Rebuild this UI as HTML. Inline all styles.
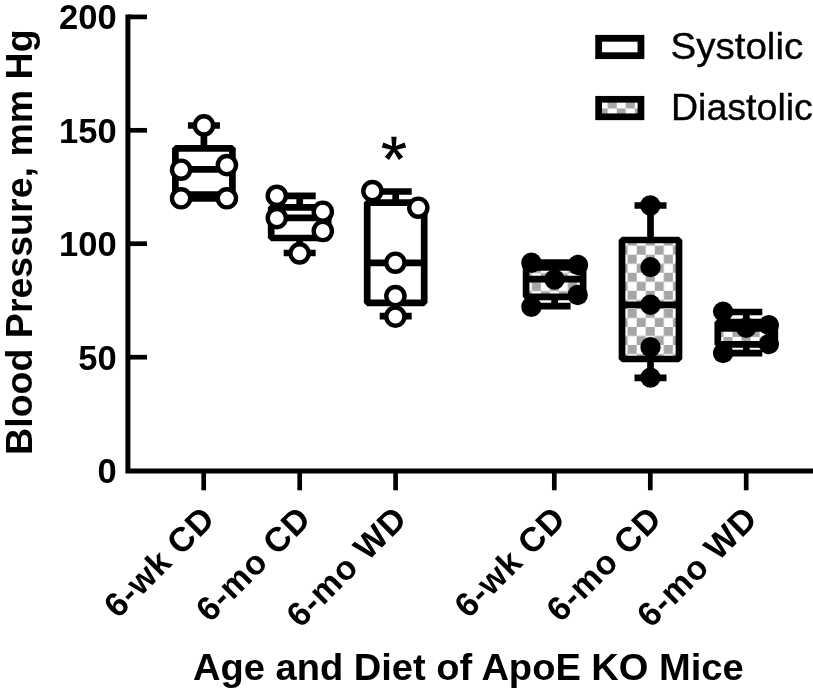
<!DOCTYPE html>
<html><head><meta charset="utf-8"><title>Blood Pressure</title>
<style>html,body{margin:0;padding:0;background:#fff;}svg{display:block;will-change:transform;}text{font-family:"Liberation Sans",sans-serif;fill:#000;}</style></head><body>
<svg width="813" height="695" viewBox="0 0 813 695">
<rect x="0" y="0" width="813" height="695" fill="#fff"/>
<defs>
<pattern id="p3" patternUnits="userSpaceOnUse" x="522.75" y="264.05" width="18.06" height="18.06"><rect x="0" y="0" width="18.06" height="18.06" fill="#fff"/><rect x="9.03" y="0" width="9.03" height="9.03" fill="#a6a6a6"/><rect x="0" y="9.03" width="9.03" height="9.03" fill="#a6a6a6"/></pattern>
<pattern id="p4" patternUnits="userSpaceOnUse" x="618.65" y="236.65" width="18.06" height="18.06"><rect x="0" y="0" width="18.06" height="18.06" fill="#fff"/><rect x="9.03" y="0" width="9.03" height="9.03" fill="#a6a6a6"/><rect x="0" y="9.03" width="9.03" height="9.03" fill="#a6a6a6"/></pattern>
<pattern id="p5" patternUnits="userSpaceOnUse" x="714.45" y="318.85" width="18.06" height="18.06"><rect x="0" y="0" width="18.06" height="18.06" fill="#fff"/><rect x="9.03" y="0" width="9.03" height="9.03" fill="#a6a6a6"/><rect x="0" y="9.03" width="9.03" height="9.03" fill="#a6a6a6"/></pattern>
<pattern id="pl" patternUnits="userSpaceOnUse" x="598.67" y="99.47" width="18.06" height="18.06"><rect x="0" y="0" width="18.06" height="18.06" fill="#fff"/><rect x="9.03" y="0" width="9.03" height="9.03" fill="#a6a6a6"/><rect x="0" y="9.03" width="9.03" height="9.03" fill="#a6a6a6"/></pattern>
</defs>
<g stroke="#000" fill="none" stroke-linecap="butt">
<path d="M127.9 14.5 V471.1 H813" stroke-width="5.0" stroke-linejoin="miter"/>
<line x1="127.9" y1="16.9" x2="147" y2="16.9" stroke-width="4.7"/>
<line x1="127.9" y1="130.3" x2="147" y2="130.3" stroke-width="4.7"/>
<line x1="127.9" y1="243.7" x2="147" y2="243.7" stroke-width="4.7"/>
<line x1="127.9" y1="357.2" x2="147" y2="357.2" stroke-width="4.7"/>
<line x1="203.7" y1="471.1" x2="203.7" y2="490.3" stroke-width="4.7"/>
<line x1="299.7" y1="471.1" x2="299.7" y2="490.3" stroke-width="4.7"/>
<line x1="395.6" y1="471.1" x2="395.6" y2="490.3" stroke-width="4.7"/>
<line x1="554.3" y1="471.1" x2="554.3" y2="490.3" stroke-width="4.7"/>
<line x1="650.3" y1="471.1" x2="650.3" y2="490.3" stroke-width="4.7"/>
<line x1="746.2" y1="471.1" x2="746.2" y2="490.3" stroke-width="4.7"/>
</g>
<g stroke="#000" stroke-width="6.7" fill="none">
<line x1="203.9" y1="125.5" x2="203.9" y2="148.3"/>
<line x1="203.9" y1="194.7" x2="203.9" y2="198.3"/>
<line x1="187.9" y1="125.5" x2="219.9" y2="125.5"/>
<line x1="187.9" y1="198.3" x2="219.9" y2="198.3"/>
<rect x="175.40" y="148.3" width="57.0" height="46.40" fill="#fff" stroke-linejoin="bevel"/>
<line x1="175.40" y1="169.4" x2="232.40" y2="169.4"/>
</g>
<circle cx="203.95" cy="125.4" r="9.1" fill="#fff" stroke="#000" stroke-width="4.4"/>
<circle cx="181.1" cy="169.7" r="9.1" fill="#fff" stroke="#000" stroke-width="4.4"/>
<circle cx="226.9" cy="165.1" r="9.1" fill="#fff" stroke="#000" stroke-width="4.4"/>
<circle cx="181.1" cy="198.3" r="9.1" fill="#fff" stroke="#000" stroke-width="4.4"/>
<circle cx="226.9" cy="198.3" r="9.1" fill="#fff" stroke="#000" stroke-width="4.4"/>
<g stroke="#000" stroke-width="6.7" fill="none">
<line x1="299.7" y1="195.8" x2="299.7" y2="207.4"/>
<line x1="299.7" y1="238.0" x2="299.7" y2="253.0"/>
<line x1="283.7" y1="195.8" x2="315.7" y2="195.8"/>
<line x1="283.7" y1="253.0" x2="315.7" y2="253.0"/>
<rect x="271.20" y="207.4" width="57.0" height="30.60" fill="#fff" stroke-linejoin="bevel"/>
<line x1="271.20" y1="217.8" x2="328.20" y2="217.8"/>
</g>
<circle cx="276.8" cy="195.8" r="9.1" fill="#fff" stroke="#000" stroke-width="4.4"/>
<circle cx="322.8" cy="211.7" r="9.1" fill="#fff" stroke="#000" stroke-width="4.4"/>
<circle cx="276.8" cy="218.1" r="9.1" fill="#fff" stroke="#000" stroke-width="4.4"/>
<circle cx="322.8" cy="231.0" r="9.1" fill="#fff" stroke="#000" stroke-width="4.4"/>
<circle cx="299.6" cy="253.4" r="9.1" fill="#fff" stroke="#000" stroke-width="4.4"/>
<g stroke="#000" stroke-width="6.7" fill="none">
<line x1="395.7" y1="191.5" x2="395.7" y2="202.6"/>
<line x1="395.7" y1="302.8" x2="395.7" y2="316.2"/>
<line x1="379.7" y1="191.5" x2="411.7" y2="191.5"/>
<line x1="379.7" y1="316.2" x2="411.7" y2="316.2"/>
<rect x="367.20" y="202.6" width="57.0" height="100.20" fill="#fff" stroke-linejoin="bevel"/>
<line x1="367.20" y1="262.8" x2="424.20" y2="262.8"/>
</g>
<circle cx="372.4" cy="191.1" r="9.1" fill="#fff" stroke="#000" stroke-width="4.4"/>
<circle cx="418.3" cy="207.7" r="9.1" fill="#fff" stroke="#000" stroke-width="4.4"/>
<circle cx="395.4" cy="262.7" r="9.1" fill="#fff" stroke="#000" stroke-width="4.4"/>
<circle cx="395.4" cy="296.1" r="9.1" fill="#fff" stroke="#000" stroke-width="4.4"/>
<circle cx="395.4" cy="316.6" r="9.1" fill="#fff" stroke="#000" stroke-width="4.4"/>
<g stroke="#000" stroke-width="6.7" fill="none">
<line x1="554.6" y1="262.7" x2="554.6" y2="267.4"/>
<line x1="554.6" y1="296.8" x2="554.6" y2="306.2"/>
<line x1="538.6" y1="262.7" x2="570.6" y2="262.7"/>
<line x1="538.6" y1="306.2" x2="570.6" y2="306.2"/>
<rect x="526.10" y="267.4" width="57.0" height="29.40" fill="url(#p3)" stroke-linejoin="bevel"/>
<line x1="526.10" y1="279.2" x2="583.10" y2="279.2"/>
</g>
<circle cx="531.4" cy="262.7" r="10.2" fill="#000"/>
<circle cx="578.0" cy="265.0" r="10.2" fill="#000"/>
<circle cx="554.5" cy="279.5" r="10.2" fill="#000"/>
<circle cx="577.7" cy="295.0" r="10.2" fill="#000"/>
<circle cx="531.4" cy="306.7" r="10.2" fill="#000"/>
<g stroke="#000" stroke-width="6.7" fill="none">
<line x1="650.5" y1="205.5" x2="650.5" y2="240.0"/>
<line x1="650.5" y1="359.0" x2="650.5" y2="377.8"/>
<line x1="634.5" y1="205.5" x2="666.5" y2="205.5"/>
<line x1="634.5" y1="377.8" x2="666.5" y2="377.8"/>
<rect x="622.00" y="240.0" width="57.0" height="119.00" fill="url(#p4)" stroke-linejoin="bevel"/>
<line x1="622.00" y1="304.8" x2="679.00" y2="304.8"/>
</g>
<circle cx="650.3" cy="205.5" r="10.2" fill="#000"/>
<circle cx="650.5" cy="267.1" r="10.2" fill="#000"/>
<circle cx="650.5" cy="304.8" r="10.2" fill="#000"/>
<circle cx="650.5" cy="347.1" r="10.2" fill="#000"/>
<circle cx="650.5" cy="377.6" r="10.2" fill="#000"/>
<g stroke="#000" stroke-width="6.7" fill="none">
<line x1="746.3" y1="312.0" x2="746.3" y2="322.2"/>
<line x1="746.3" y1="344.4" x2="746.3" y2="353.2"/>
<line x1="730.3" y1="312.0" x2="762.3" y2="312.0"/>
<line x1="730.3" y1="353.2" x2="762.3" y2="353.2"/>
<rect x="717.80" y="322.2" width="57.0" height="22.20" fill="url(#p5)" stroke-linejoin="bevel"/>
<line x1="717.80" y1="328.45" x2="774.80" y2="328.45"/>
</g>
<circle cx="723.1" cy="311.6" r="10.2" fill="#000"/>
<circle cx="768.9" cy="325.1" r="10.2" fill="#000"/>
<circle cx="746.2" cy="327.7" r="10.2" fill="#000"/>
<circle cx="768.9" cy="344.1" r="10.2" fill="#000"/>
<circle cx="723.1" cy="353.0" r="10.2" fill="#000"/>
<rect x="598.65" y="38.3" width="42.3" height="17.4" fill="#fff" stroke="#000" stroke-width="6.8"/>
<rect x="598.65" y="99.3" width="42.3" height="17.5" fill="url(#pl)" stroke="#000" stroke-width="6.7"/>
<text x="670.5" y="58.6" font-size="37" textLength="132.7" lengthAdjust="spacingAndGlyphs" stroke="#000" stroke-width="0.35" id="t_sys">Systolic</text>
<text x="671.0" y="119.9" font-size="37" textLength="141.9" lengthAdjust="spacingAndGlyphs" stroke="#000" stroke-width="0.35" id="t_dia">Diastolic</text>
<text x="116.6" y="29.2" font-size="34.5" font-weight="bold" text-anchor="end" id="yl200">200</text>
<text x="116.6" y="142.6" font-size="34.5" font-weight="bold" text-anchor="end" id="yl150">150</text>
<text x="116.6" y="256.0" font-size="34.5" font-weight="bold" text-anchor="end" id="yl100">100</text>
<text x="116.6" y="369.5" font-size="34.5" font-weight="bold" text-anchor="end" id="yl50">50</text>
<text x="116.6" y="483.4" font-size="34.5" font-weight="bold" text-anchor="end" id="yl0">0</text>
<path d="M395.65 148.65 L396.60 136.65 L391.30 136.65 L392.25 148.65Z M394.48 150.27 L406.18 147.46 L404.54 142.42 L393.42 147.03Z M392.57 149.65 L398.86 159.92 L403.15 156.80 L395.33 147.65Z M392.57 147.65 L384.75 156.80 L389.04 159.92 L395.33 149.65Z M394.48 147.03 L383.36 142.42 L381.72 147.46 L393.42 150.27Z" fill="#000"/>
<circle cx="393.95" cy="148.65" r="2.6" fill="#000"/>
<text transform="translate(32.1 454.9) rotate(-90)" font-size="37.5" font-weight="bold" textLength="425.5" lengthAdjust="spacingAndGlyphs" id="ytitle">Blood Pressure, mm Hg</text>
<text x="193" y="679.8" font-size="37.5" font-weight="bold" textLength="550.7" lengthAdjust="spacingAndGlyphs" id="xtitle">Age and Diet of ApoE KO Mice</text>
<text transform="translate(217.0 520.5) rotate(-45)" font-size="34" letter-spacing="0.85" font-weight="bold" text-anchor="end">6-wk CD</text>
<text transform="translate(313.0 520.5) rotate(-45)" font-size="34" letter-spacing="0.85" font-weight="bold" text-anchor="end">6-mo CD</text>
<text transform="translate(408.9 520.5) rotate(-45)" font-size="34" letter-spacing="0.85" font-weight="bold" text-anchor="end">6-mo WD</text>
<text transform="translate(567.6 520.5) rotate(-45)" font-size="34" letter-spacing="0.85" font-weight="bold" text-anchor="end">6-wk CD</text>
<text transform="translate(663.6 520.5) rotate(-45)" font-size="34" letter-spacing="0.85" font-weight="bold" text-anchor="end">6-mo CD</text>
<text transform="translate(759.5 520.5) rotate(-45)" font-size="34" letter-spacing="0.85" font-weight="bold" text-anchor="end">6-mo WD</text>
</svg></body></html>
